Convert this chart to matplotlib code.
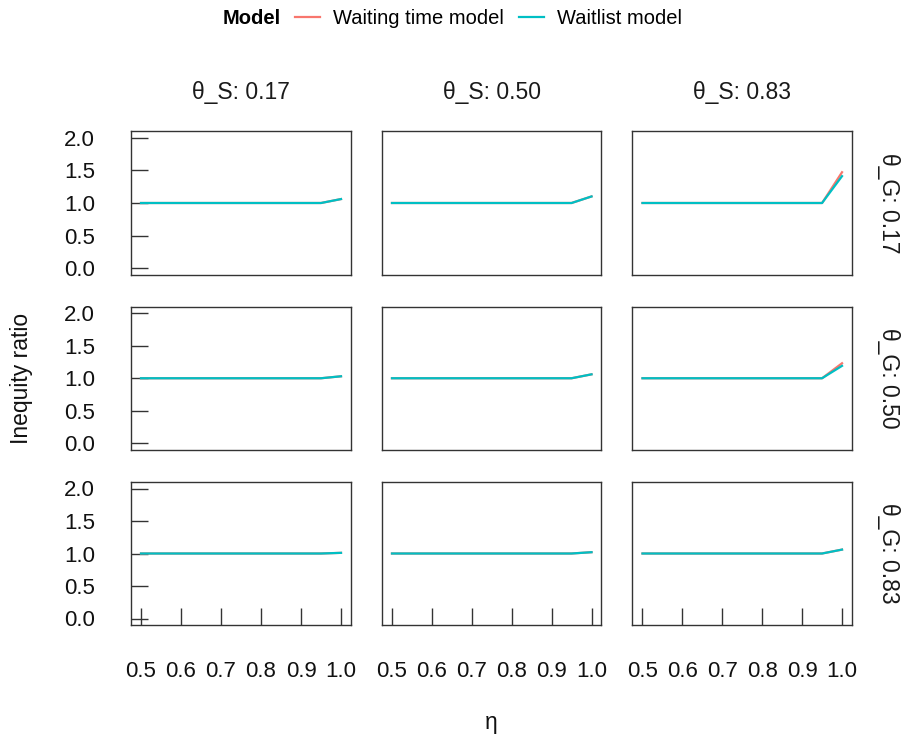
import matplotlib
matplotlib.use("Agg")
import matplotlib.pyplot as plt
from matplotlib.lines import Line2D

plt.rcParams['font.family'] = ['Liberation Sans', 'DejaVu Sans']

# data
eta = [0.5, 0.6, 0.7, 0.8, 0.9, 0.95, 1.0]
theta_s = ["0.17", "0.50", "0.83"]
theta_g = ["0.17", "0.50", "0.83"]
# end value at eta = 1.0 per (theta_G row, theta_S col); flat 1.0 elsewhere
waiting_end = [[1.06, 1.10, 1.47],
               [1.03, 1.06, 1.23],
               [1.01, 1.02, 1.06]]
waitlist_end = [[1.06, 1.10, 1.41],
                [1.03, 1.06, 1.19],
                [1.01, 1.02, 1.06]]
x_ticks = [0.5, 0.6, 0.7, 0.8, 0.9, 1.0]
y_ticks = [0.0, 0.5, 1.0, 1.5, 2.0]

RED = "#F8766D"
CYAN = "#00BFC4"

W, H = 904, 740
fig = plt.figure(figsize=(W / 100, H / 100), dpi=100)

col_px = [(131, 351), (382, 601.5), (632.5, 852)]
row_px = [(131, 275), (306.5, 450), (482, 625)]

for r, (top, bot) in enumerate(row_px):
    for c, (left, right) in enumerate(col_px):
        ax = fig.add_axes([left / W, 1 - bot / H, (right - left) / W, (bot - top) / H])
        y1 = [1.0] * (len(eta) - 1) + [waiting_end[r][c]]
        y2 = [1.0] * (len(eta) - 1) + [waitlist_end[r][c]]
        ax.plot(eta, y1, color=RED, lw=1.6, zorder=2)
        ax.plot(eta, y2, color=CYAN, lw=1.6, zorder=3)
        ax.set_xlim(0.475, 1.025)
        ax.set_ylim(-0.1, 2.1)
        for s in ax.spines.values():
            s.set_color("#333333")
            s.set_linewidth(1.0)
        ax.set_xticks(x_ticks)
        ax.set_yticks(y_ticks)
        ax.tick_params(direction='in', length=12, width=1.0, color="#333333",
                       labelsize=16, labelcolor="#111111", zorder=4)
        ax.tick_params(axis='y', pad=26)
        ax.tick_params(axis='x', pad=26)
        if c == 0:
            ax.set_yticklabels([f"{v:.1f}" for v in y_ticks])
        else:
            ax.tick_params(axis='y', left=False, labelleft=False)
        if r == 2:
            ax.set_xticklabels([f"{v:.1f}" for v in x_ticks])
        else:
            ax.tick_params(axis='x', bottom=False, labelbottom=False)
        if r == 0:
            ax.text(0.5, 1 + 38 / (bot - top), f"θ_S: {theta_s[c]}", transform=ax.transAxes,
                    ha='center', va='center', fontsize=16.5, color="#1a1a1a")
        if c == 2:
            ax.text(1 + 37 / (right - left), 0.5, f"θ_G: {theta_g[r]}", transform=ax.transAxes,
                    ha='center', va='center', rotation=270, fontsize=16.5, color="#1a1a1a")

fig.text(22 / W, 1 - 378 / H, "Inequity ratio", rotation=90, ha='center', va='center',
         fontsize=16.5, color="#111111")
fig.text(491 / W, 1 - 722 / H, "η", ha='center', va='center', fontsize=16.5, color="#111111")

fig.text(223 / W, 1 - 19 / H, "Model", fontweight='bold', ha='left', va='center', fontsize=14.5)
handles = [Line2D([], [], color=RED, lw=1.6), Line2D([], [], color=CYAN, lw=1.6)]
fig.legend(handles, ["Waiting time model", "Waitlist model"], ncol=2, frameon=False,
           loc='center left', bbox_to_anchor=(295 / W, 1 - 19 / H), fontsize=14.5,
           handlelength=1.24, handletextpad=0.65, columnspacing=0.75, borderpad=0,
           borderaxespad=0)

fig.savefig("out.png", dpi=100, facecolor='white')
